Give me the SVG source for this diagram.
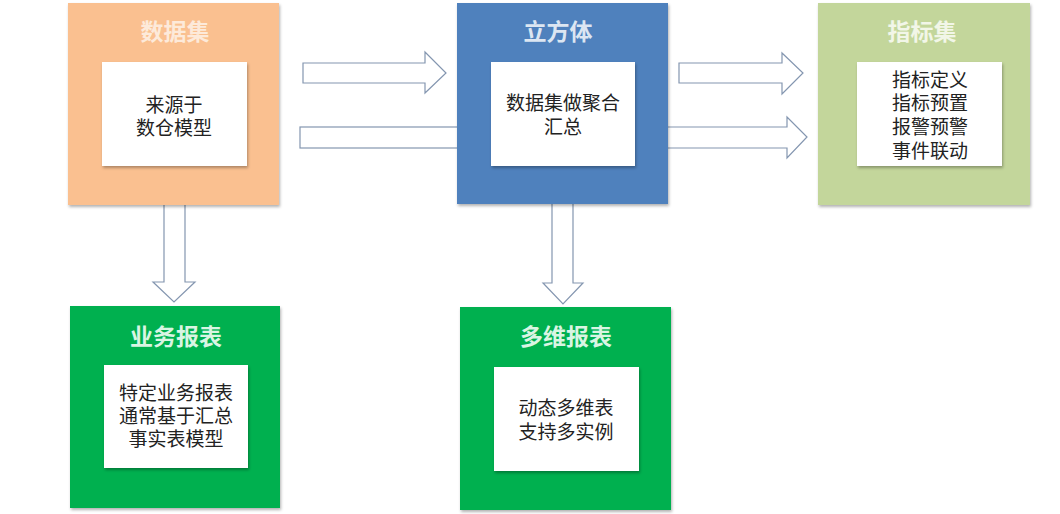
<svg xmlns="http://www.w3.org/2000/svg" width="1060" height="514" viewBox="0 0 1060 514">
<style>
.title{font-family:"Liberation Sans","Noto Sans CJK SC",sans-serif;font-weight:bold;font-size:23px;text-anchor:middle}
.body{font-family:"Liberation Sans","Noto Sans CJK SC",sans-serif;font-size:19px;fill:#222;text-anchor:middle}
.inner{fill:#ffffff}
.arrow{fill:#ffffff;stroke:#8496b0;stroke-width:1.2;stroke-linejoin:miter}
</style>
<defs>
<filter id="sh" x="-10%" y="-10%" width="130%" height="130%">
<feDropShadow dx="1" dy="2" stdDeviation="1.5" flood-color="#000" flood-opacity="0.3"/>
</filter>
</defs>
<rect width="1060" height="514" fill="#ffffff"/>
<g id="connectors">
<polygon class="arrow" points="303,63 425,63 425,52 446,73 425,93 425,83 303,83"/>
<rect class="arrow" x="300" y="127" width="170" height="21"/>
<polygon class="arrow" points="679,63 782,63 782,53 803,73 782,94 782,83 679,83"/>
<polygon class="arrow" points="650,127 787,127 787,117 807,137 787,158 787,148 650,148"/>
<polygon class="arrow" points="164,195 185,195 185,282 195,282 174,302 153,282 164,282"/>
<polygon class="arrow" points="552,195 573,195 573,283 583,283 563,304 543,283 552,283"/>
</g>
<g id="dataset">
<rect x="68" y="3" width="211" height="202" fill="#fac090" filter="url(#sh)"/>
<text class="title" x="175" y="40" fill="#fdeada">数据集</text>
<rect class="inner" x="102" y="62" width="145" height="104" filter="url(#sh)"/>
<text class="body" x="174" y="112">来源于</text>
<text class="body" x="174" y="135">数仓模型</text>
</g>
<g id="cube">
<rect x="457" y="3" width="211" height="201" fill="#4f81bd" filter="url(#sh)"/>
<text class="title" x="558" y="40" fill="#dce6f2">立方体</text>
<rect class="inner" x="491" y="62" width="144" height="104" filter="url(#sh)"/>
<text class="body" x="563" y="110">数据集做聚合</text>
<text class="body" x="563" y="134">汇总</text>
</g>
<g id="metrics">
<rect x="818" y="3" width="212" height="202" fill="#c3d69b" filter="url(#sh)"/>
<text class="title" x="922" y="40" fill="#f2f6e8">指标集</text>
<rect class="inner" x="857" y="62" width="145" height="104" filter="url(#sh)"/>
<text class="body" x="930" y="87">指标定义</text>
<text class="body" x="930" y="110">指标预置</text>
<text class="body" x="930" y="134">报警预警</text>
<text class="body" x="930" y="158">事件联动</text>
</g>
<g id="bizreport">
<rect x="70" y="306" width="210" height="202" fill="#00b050" filter="url(#sh)"/>
<text class="title" x="176" y="345" fill="#d9f5e3">业务报表</text>
<rect class="inner" x="104" y="365" width="144" height="103" filter="url(#sh)"/>
<text class="body" x="176" y="400">特定业务报表</text>
<text class="body" x="176" y="423">通常基于汇总</text>
<text class="body" x="176" y="446">事实表模型</text>
</g>
<g id="mdreport">
<rect x="460" y="307" width="211" height="203" fill="#00b050" filter="url(#sh)"/>
<text class="title" x="566" y="345" fill="#d9f5e3">多维报表</text>
<rect class="inner" x="494" y="367" width="145" height="104" filter="url(#sh)"/>
<text class="body" x="566" y="415">动态多维表</text>
<text class="body" x="566" y="439">支持多实例</text>
</g>
</svg>
